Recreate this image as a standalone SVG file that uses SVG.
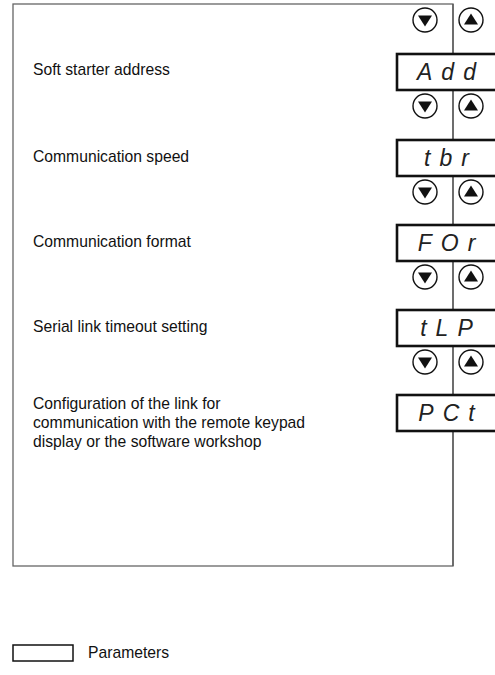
<svg xmlns="http://www.w3.org/2000/svg" width="495" height="675" viewBox="0 0 495 675">
<defs>
<style>
.lbl{font-family:"Liberation Sans",Arial,sans-serif;font-size:15.7px;fill:#111}
.seg{font-family:"Liberation Sans",Arial,sans-serif;font-style:italic;font-size:23px;fill:#222;text-anchor:middle;letter-spacing:9px}
.box{fill:#fff;stroke:#111;stroke-width:2.6}
.btn{fill:#fff;stroke:#111;stroke-width:1.4}
.tri{fill:#111}
.frame{fill:none;stroke:#666;stroke-width:1.3}
</style>
<g id="btnpair">
<circle class="btn" cx="425" cy="0" r="12"/>
<polygon class="tri" points="418,-4.5 432,-4.5 425,6.5"/>
<circle class="btn" cx="471" cy="0" r="12"/>
<polygon class="tri" points="464,4.5 478,4.5 471,-6.5"/>
</g>
</defs>
<rect class="frame" x="13" y="4" width="440" height="562"/>
<g id="connectors">
<line x1="453" y1="4" x2="453" y2="566" stroke="#555" stroke-width="1.3"/>
</g>
<g id="btn1"><use href="#btnpair" y="20"/></g>
<g id="node-add">
<rect class="box" x="397" y="54" width="110" height="36"/>
<text class="seg" x="451" y="80">Add</text>
<text class="lbl" x="33" y="75">Soft starter address</text>
</g>
<g id="btn2"><use href="#btnpair" y="106"/></g>
<g id="node-tbr">
<rect class="box" x="397" y="140" width="110" height="36"/>
<text class="seg" x="451" y="166">tbr</text>
<text class="lbl" x="33" y="162">Communication speed</text>
</g>
<g id="btn3"><use href="#btnpair" y="192"/></g>
<g id="node-for">
<rect class="box" x="397" y="225" width="110" height="36"/>
<text class="seg" x="451" y="251">FOr</text>
<text class="lbl" x="33" y="247">Communication format</text>
</g>
<g id="btn4"><use href="#btnpair" y="277"/></g>
<g id="node-tlp">
<rect class="box" x="397" y="310" width="110" height="36"/>
<text class="seg" x="451" y="336">tLP</text>
<text class="lbl" x="33" y="332">Serial link timeout setting</text>
</g>
<g id="btn5"><use href="#btnpair" y="362"/></g>
<g id="node-pct">
<rect class="box" x="397" y="395" width="110" height="36"/>
<text class="seg" x="451" y="421">PCt</text>
<text class="lbl" x="33" y="409">Configuration of the link for</text>
<text class="lbl" x="33" y="428">communication with the remote keypad</text>
<text class="lbl" x="33" y="447">display or the software workshop</text>
</g>
<g id="legend">
<rect x="13" y="645" width="60" height="16" fill="#fff" stroke="#111" stroke-width="1.5"/>
<text class="lbl" x="88" y="658">Parameters</text>
</g>
</svg>
